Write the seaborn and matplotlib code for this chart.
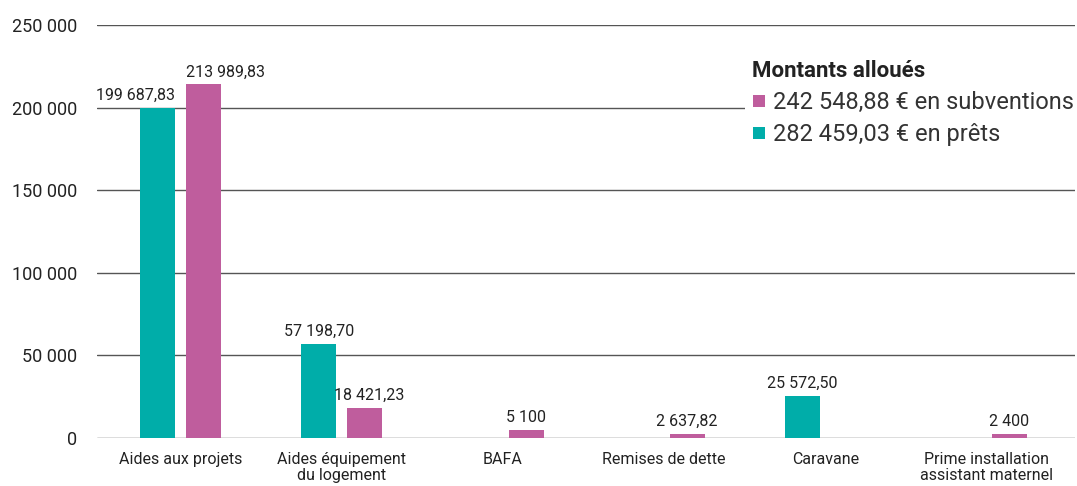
import numpy as np
import pandas as pd
import seaborn as sns
import matplotlib.pyplot as plt
from matplotlib.lines import Line2D

# données
categories = ['Aides aux projets', 'Aides équipement\ndu logement', 'BAFA',
              'Remises de dette', 'Caravane', 'Prime installation\nassistant maternel']
prets = [199687.83, 57198.70, np.nan, np.nan, 25572.50, np.nan]
subventions = [213989.83, 18421.23, 5100, 2637.82, np.nan, 2400]
series = ['Prêts', 'Subventions']
legend_labels = ['242 548,88 € en subventions', '282 459,03 € en prêts']
colors = {'Prêts': '#00ada9', 'Subventions': '#bf5d9d'}
text_color = '#222222'

df = pd.DataFrame({
    'categorie': categories * 2,
    'type': ['Prêts'] * len(categories) + ['Subventions'] * len(categories),
    'montant': prets + subventions,
})

sns.set_theme(style='white')
plt.rcParams['font.family'] = ['Roboto', 'DejaVu Sans']
plt.rcParams['text.color'] = text_color


def fr_format(v):
    ''' 199687.83 -> "199 687,83" '''
    if v is None or np.isnan(v) or v == 0:
        return ''
    if float(v).is_integer():
        return f'{int(v):,}'.replace(',', ' ')
    s = f'{v:,.2f}'
    return s.replace(',', ' ').replace('.', ',')


fig = plt.figure(figsize=(10.77, 4.86), dpi=100)
ax = fig.add_axes([97 / 1077, 48 / 486, 978 / 1077, 413 / 486])

sns.barplot(data=df, x='categorie', y='montant', hue='type', hue_order=series,
            order=categories, palette=colors, width=0.572, gap=0.24,
            saturation=1, linewidth=0, legend=False, ax=ax, zorder=3)

for i, cont in enumerate(ax.containers):
    anns = ax.bar_label(cont, fmt=fr_format, padding=3.5, fontsize=11.5,
                        color=text_color)
    # premier groupe : étiquettes écartées pour ne pas se chevaucher
    if i == 0:
        anns[0].set_ha('right')
        anns[0].xyann = (12.6, 3.5)
    else:
        anns[0].set_ha('left')
        anns[0].xyann = (-12.6, 3.5)
        anns[1].xyann = (3, 3.5)

ax.set_ylim(0, 250000)
ax.set_xlim(-0.52, 5.55)
ticks = np.arange(0, 250001, 50000)
ax.set_yticks(ticks)
ax.set_yticklabels([f'{int(t):,}'.replace(',', ' ') for t in ticks])
ax.yaxis.grid(True, color='#555555', linewidth=1)
ax.set_axisbelow(True)
for sp in ax.spines.values():
    sp.set_visible(False)
ax.tick_params(axis='y', length=0, pad=14, labelsize=13, labelcolor=text_color)
ax.tick_params(axis='x', length=0, pad=10, labelsize=11.5, labelcolor=text_color)
for lab in ax.get_xticklabels():
    lab.set_linespacing(1.1)
ax.set_xlabel('')
ax.set_ylabel('')

handles = [Line2D([], [], marker='s', linestyle='', markersize=8.6,
                  markerfacecolor=colors['Subventions'], markeredgewidth=0),
           Line2D([], [], marker='s', linestyle='', markersize=8.6,
                  markerfacecolor=colors['Prêts'], markeredgewidth=0)]
leg = fig.legend(handles, legend_labels, title='Montants alloués',
                 loc='upper left', bbox_to_anchor=(733 / 1077, 1 - 41 / 486),
                 frameon=True, facecolor='white', edgecolor='none', framealpha=1,
                 fancybox=False, fontsize=17, handlelength=0.6, handletextpad=0.3,
                 labelspacing=0.38, borderpad=0.3, alignment='left',
                 title_fontproperties={'weight': 'bold', 'size': 16})
for t in leg.get_texts():
    t.set_color('#333333')

fig.savefig('out.png', dpi=100)
